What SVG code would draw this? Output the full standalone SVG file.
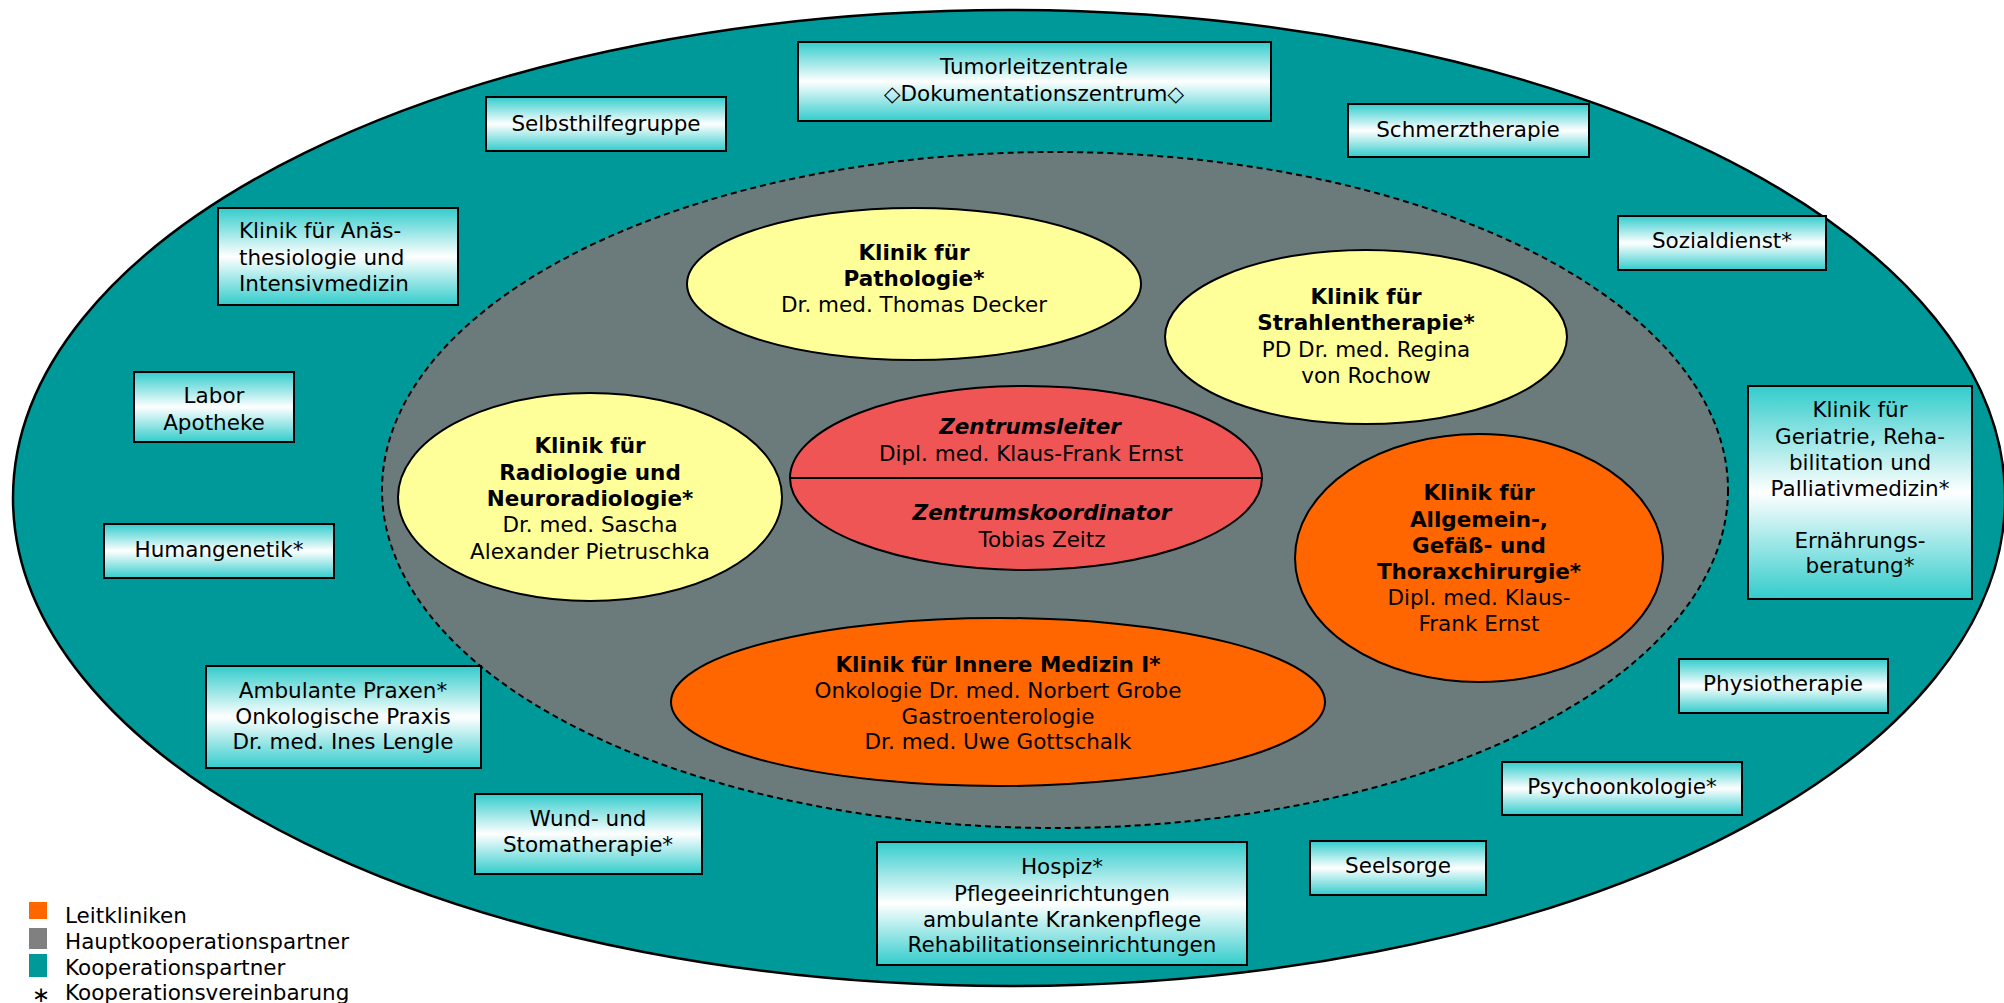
<svg xmlns="http://www.w3.org/2000/svg" width="2004" height="1003" viewBox="0 0 2004 1003">
<defs>
<linearGradient id="bg" x1="0" y1="0" x2="0" y2="1">
<stop offset="0" stop-color="#33cccc"/>
<stop offset="0.5" stop-color="#ffffff"/>
<stop offset="1" stop-color="#33cccc"/>
</linearGradient>
</defs>
<style>
text{font-family:"DejaVu Sans",Verdana,sans-serif;font-size:21.5px;fill:#000;text-anchor:middle}
.l{text-anchor:start}
.b{font-weight:bold}
.bi{font-weight:bold;font-style:italic}
.box{fill:url(#bg);stroke:#000;stroke-width:2}
.yel{fill:#ffff99;stroke:#000;stroke-width:2}
.org{fill:#ff6600;stroke:#000;stroke-width:2}
</style>
<rect width="2004" height="1003" fill="#fff"/>
<g id="outer"><ellipse cx="1009" cy="498" rx="996" ry="488" fill="#009999" stroke="#000" stroke-width="2.5"/></g>
<g id="inner"><ellipse cx="1055" cy="490" rx="673" ry="338" fill="#6b7b7b" stroke="#000" stroke-width="2" stroke-dasharray="6,4"/></g>

<g id="tumorleitzentrale"><rect class="box" x="798" y="42" width="473" height="79"/><text x="1034" y="74">Tumorleitzentrale</text><text x="1034" y="101">◇Dokumentationszentrum◇</text></g>
<g id="selbsthilfe"><rect class="box" x="486" y="97" width="240" height="54"/><text x="606" y="131">Selbsthilfegruppe</text></g>
<g id="schmerz"><rect class="box" x="1348" y="104" width="241" height="53"/><text x="1468" y="137">Schmerztherapie</text></g>
<g id="anaesthesie"><rect class="box" x="218" y="208" width="240" height="97"/><text class="l" x="239" y="238">Klinik für Anäs-</text><text class="l" x="239" y="265">thesiologie und</text><text class="l" x="239" y="291">Intensivmedizin</text></g>
<g id="sozial"><rect class="box" x="1618" y="216" width="208" height="54"/><text x="1722" y="248">Sozialdienst*</text></g>
<g id="labor"><rect class="box" x="134" y="372" width="160" height="70"/><text x="214" y="403">Labor</text><text x="214" y="430">Apotheke</text></g>
<g id="geriatrie"><rect class="box" x="1748" y="386" width="224" height="213"/><text x="1860" y="417">Klinik für</text><text x="1860" y="444">Geriatrie, Reha-</text><text x="1860" y="470">bilitation und</text><text x="1860" y="496">Palliativmedizin*</text><text x="1860" y="548">Ernährungs-</text><text x="1860" y="573">beratung*</text></g>
<g id="humangenetik"><rect class="box" x="104" y="524" width="230" height="54"/><text x="219" y="557">Humangenetik*</text></g>
<g id="ambulant"><rect class="box" x="206" y="666" width="275" height="102"/><text x="343" y="698">Ambulante Praxen*</text><text x="343" y="724">Onkologische Praxis</text><text x="343" y="749">Dr. med. Ines Lengle</text></g>
<g id="physio"><rect class="box" x="1679" y="659" width="209" height="54"/><text x="1783" y="691">Physiotherapie</text></g>
<g id="wund"><rect class="box" x="475" y="794" width="227" height="80"/><text x="588" y="826">Wund- und</text><text x="588" y="852">Stomatherapie*</text></g>
<g id="psycho"><rect class="box" x="1502" y="762" width="240" height="53"/><text x="1622" y="794">Psychoonkologie*</text></g>
<g id="seelsorge"><rect class="box" x="1310" y="841" width="176" height="54"/><text x="1398" y="873">Seelsorge</text></g>
<g id="hospiz"><rect class="box" x="877" y="842" width="370" height="123"/><text x="1062" y="874">Hospiz*</text><text x="1062" y="901">Pflegeeinrichtungen</text><text x="1062" y="927">ambulante Krankenpflege</text><text x="1062" y="952">Rehabilitationseinrichtungen</text></g>

<g id="pathologie"><ellipse class="yel" cx="914" cy="284" rx="227" ry="76"/><text class="b" x="914" y="260">Klinik für</text><text class="b" x="914" y="286">Pathologie*</text><text x="914" y="312">Dr. med. Thomas Decker</text></g>
<g id="strahlen"><ellipse class="yel" cx="1366" cy="337" rx="201" ry="87"/><text class="b" x="1366" y="304">Klinik für</text><text class="b" x="1366" y="330">Strahlentherapie*</text><text x="1366" y="357">PD Dr. med. Regina</text><text x="1366" y="383">von Rochow</text></g>
<g id="radiologie"><ellipse class="yel" cx="590" cy="497" rx="192" ry="104"/><text class="b" x="590" y="453">Klinik für</text><text class="b" x="590" y="480">Radiologie und</text><text class="b" x="590" y="506">Neuroradiologie*</text><text x="590" y="532">Dr. med. Sascha</text><text x="590" y="559">Alexander Pietruschka</text></g>
<g id="zentrum"><ellipse cx="1026" cy="478" rx="236" ry="92" fill="#ef5555" stroke="#000" stroke-width="2"/><line x1="790" y1="478" x2="1262" y2="478" stroke="#000" stroke-width="2"/><text class="bi" x="1030" y="434">Zentrumsleiter</text><text x="1031" y="461">Dipl. med. Klaus-Frank Ernst</text><text class="bi" x="1042" y="520">Zentrumskoordinator</text><text x="1042" y="547">Tobias Zeitz</text></g>
<g id="allgemein"><ellipse class="org" cx="1479" cy="558" rx="184" ry="124"/><text class="b" x="1479" y="500">Klinik für</text><text class="b" x="1479" y="527">Allgemein-,</text><text class="b" x="1479" y="553">Gefäß- und</text><text class="b" x="1479" y="579">Thoraxchirurgie*</text><text x="1479" y="605">Dipl. med. Klaus-</text><text x="1479" y="631">Frank Ernst</text></g>
<g id="innere"><ellipse class="org" cx="998" cy="702" rx="327" ry="84"/><text class="b" x="998" y="672">Klinik für Innere Medizin I*</text><text x="998" y="698">Onkologie Dr. med. Norbert Grobe</text><text x="998" y="724">Gastroenterologie</text><text x="998" y="749">Dr. med. Uwe Gottschalk</text></g>

<g id="connectors"></g>

<g id="legend">
<rect x="29" y="902" width="18" height="17" fill="#ff6600"/>
<rect x="29" y="928" width="18" height="21" fill="#808080"/>
<rect x="29" y="954" width="18" height="23" fill="#009999"/>
<text class="l" x="65" y="923">Leitkliniken</text>
<text class="l" x="65" y="949">Hauptkooperationspartner</text>
<text class="l" x="65" y="975">Kooperationspartner</text>
<text x="41" y="1002">∗</text>
<text class="l" x="65" y="1000">Kooperationsvereinbarung</text>
</g>
</svg>
